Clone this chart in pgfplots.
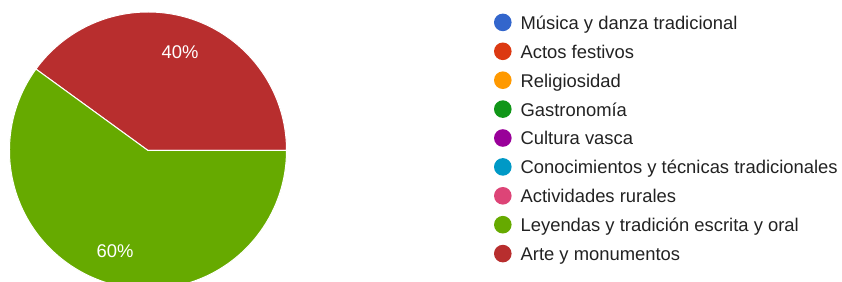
\documentclass[border=0pt]{standalone}
\usepackage{fontspec}
\setmainfont{Liberation Sans}
\usepackage{pgfplots}
\pgfplotsset{compat=1.18}
\definecolor{cBlue}{HTML}{3366CC}
\definecolor{cRed}{HTML}{DC3912}
\definecolor{cOrange}{HTML}{FF9900}
\definecolor{cGreen}{HTML}{109618}
\definecolor{cPurple}{HTML}{990099}
\definecolor{cTeal}{HTML}{0099C6}
\definecolor{cPink}{HTML}{DD4477}
\definecolor{cLime}{HTML}{66AA00}
\definecolor{cDark}{HTML}{B82E2E}
\definecolor{txt}{HTML}{222222}
% pie values (percent)
\def\valLeyendas{60}
\def\valArte{40}
\begin{document}
\begin{tikzpicture}
\begin{axis}[
  scale only axis, width=842pt, height=281pt,
  xmin=0, xmax=842, ymin=0, ymax=281,
  hide axis, clip=true,
  legend cell align=left,
  legend image code/.code={\path[draw=none, fill=none, use as bounding box] (0pt,-2.2pt) rectangle (17.6pt,15.4pt);
    \fill[#1, draw=none] (8.8pt,2.2pt) circle (8.8pt);},
  legend style={at={(axis cs:494,271.8)}, anchor=north west,
    draw=none, fill=none, inner sep=0pt, outer sep=0pt,
    row sep=4.75pt, column sep=9pt,
    font=\fontsize{18.4}{21}\selectfont, text=txt,
    nodes={inner sep=0pt, text height=13.5pt, text depth=4pt}},
]
\addlegendimage{cBlue}
\addlegendentry{Música y danza tradicional}
\addlegendimage{cRed}
\addlegendentry{Actos festivos}
\addlegendimage{cOrange}
\addlegendentry{Religiosidad}
\addlegendimage{cGreen}
\addlegendentry{Gastronomía}
\addlegendimage{cPurple}
\addlegendentry{Cultura vasca}
\addlegendimage{cTeal}
\addlegendentry{Conocimientos y técnicas tradicionales}
\addlegendimage{cPink}
\addlegendentry{Actividades rurales}
\addlegendimage{cLime}
\addlegendentry{Leyendas y tradición escrita y oral}
\addlegendimage{cDark}
\addlegendentry{Arte y monumentos}
% pie slices
\pgfmathsetmacro{\angA}{3.6*\valArte}
\fill[cDark, draw=white, line width=1pt] (axis cs:148,130.5) -- ++(0:138.5pt)
  arc[start angle=0, end angle=\angA, radius=138.5pt] -- cycle;
\fill[cLime, draw=white, line width=1pt] (axis cs:148,130.5) -- ++(\angA:138.5pt)
  arc[start angle=\angA, end angle=360, radius=138.5pt] -- cycle;
\node[text=white, font=\fontsize{18.4}{21}\selectfont] at (axis cs:180,229.3) {\valArte\%};
\node[text=white, font=\fontsize{18.4}{21}\selectfont] at (axis cs:115,30.3) {\valLeyendas\%};
\end{axis}
\pgfresetboundingbox
\path[use as bounding box] (current axis.south west) rectangle (current axis.north east);
\end{tikzpicture}
\end{document}
